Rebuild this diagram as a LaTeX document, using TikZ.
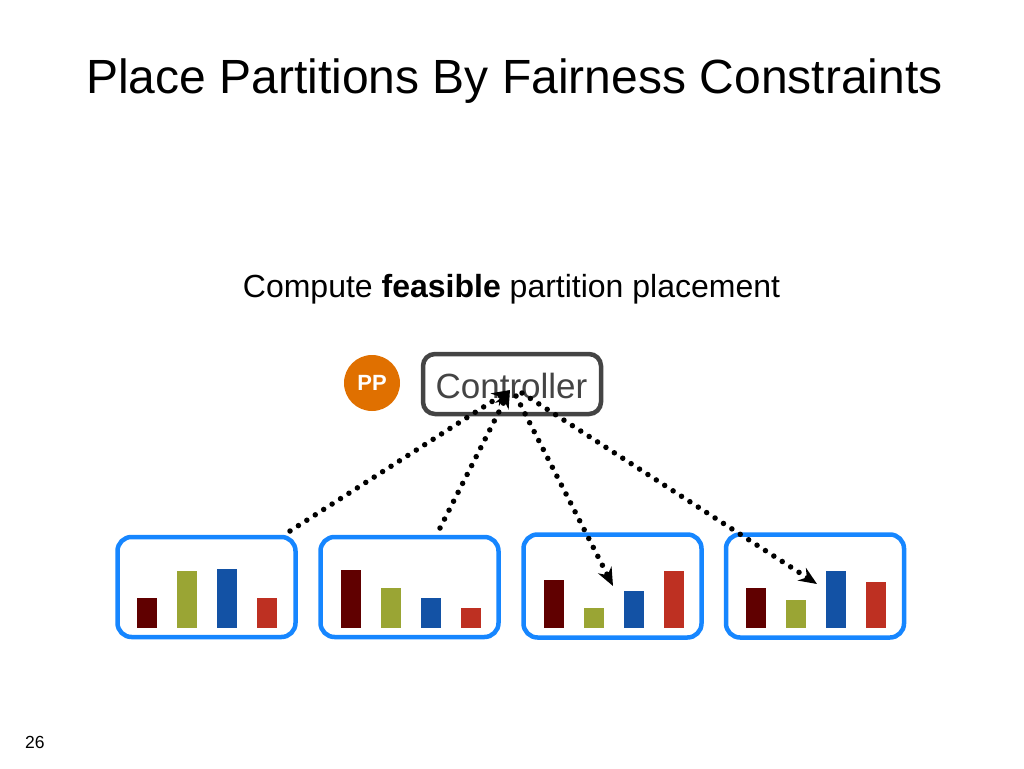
\documentclass[tikz,border=0pt]{standalone}
\usepackage{fontspec}
\setmainfont{Liberation Sans}
\usetikzlibrary{arrows.meta}
\definecolor{boxblue}{RGB}{22,134,255}
\definecolor{bdark}{RGB}{96,0,0}
\definecolor{bolive}{RGB}{154,165,52}
\definecolor{bblue}{RGB}{19,82,165}
\definecolor{bred}{RGB}{190,48,34}
\definecolor{ppor}{RGB}{224,112,0}
\definecolor{ctrlgray}{RGB}{68,68,68}
\tikzset{
  srvbox/.style={draw=boxblue,line width=4.5pt,rounded corners=14pt},
  dotline/.style={line width=5.5pt,line cap=round,dash pattern=on 0pt off 10pt},
  tip/.style={-{Stealth[length=18pt,width=15pt]}},
}
\newcommand{\mybar}[3]{\fill[#3] (#1,628) rectangle (#1+20,#2);}
\begin{document}
\begin{tikzpicture}[x=1pt,y=-1pt]
\useasboundingbox (0,0) rectangle (1024,768);
\node[anchor=base west,font=\fontsize{48}{58}\selectfont,inner sep=0pt] (title) at (86,93) {Place Partitions By Fairness Constraints};
\node[anchor=base,font=\fontsize{32}{38}\selectfont,inner sep=0pt] (sub) at (511.5,297) {Compute \textbf{feasible} partition placement};
\node[anchor=base west,font=\fontsize{17.5}{20}\selectfont,inner sep=0pt] (pg) at (25,748) {26};
% controller
\node[draw=ctrlgray,line width=4.5pt,rounded corners=12pt,minimum width=178pt,minimum height=60pt,inner sep=0pt] (ctrl) at (512,384) {};
\node[text=ctrlgray,font=\fontsize{35}{40}\selectfont,anchor=base,inner sep=0pt] (ctrltxt) at (511.5,398) {Controller};
\node[circle,fill=ppor,minimum size=56pt,inner sep=0pt,text=white,font=\bfseries\fontsize{22}{26}\selectfont] (pp) at (372,383) {PP};
% boxes
\node[srvbox,minimum width=178pt,minimum height=100pt] (b1) at (206.5,587) {};
\node[srvbox,minimum width=178pt,minimum height=100pt] (b2) at (409.5,587) {};
\node[srvbox,minimum width=178pt,minimum height=103pt] (b3) at (612.5,586) {};
\node[srvbox,minimum width=178pt,minimum height=103pt] (b4) at (815,586) {};
% bars
\mybar{137}{598}{bdark}
\mybar{177}{571}{bolive}
\mybar{217}{569}{bblue}
\mybar{257}{598}{bred}
\mybar{341}{570}{bdark}
\mybar{381}{588}{bolive}
\mybar{421}{598}{bblue}
\mybar{461}{608}{bred}
\mybar{544}{580}{bdark}
\mybar{584}{608}{bolive}
\mybar{624}{591}{bblue}
\mybar{664}{571}{bred}
\mybar{746}{588}{bdark}
\mybar{786}{600}{bolive}
\mybar{826}{571}{bblue}
\mybar{866}{582}{bred}
% connector ends
\coordinate (hub) at (510,390);
\coordinate (s1) at (290,531);
\coordinate (s2) at (440,528);
\coordinate (t3) at (613,586);
\coordinate (t4) at (817,584);
\coordinate (h3) at (516,396);
\coordinate (h4) at (522,393);
\draw[dotline,tip] (s1) -- (hub);
\draw[dotline,tip] (s2) -- (hub);
\draw[dotline,tip] (h3) -- (t3);
\draw[dotline,tip] (h4) -- (t4);
\end{tikzpicture}
\end{document}
